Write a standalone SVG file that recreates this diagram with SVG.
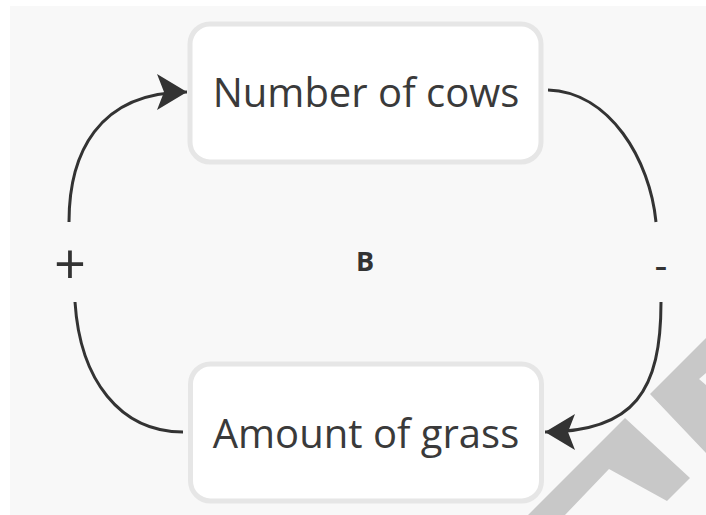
<svg xmlns="http://www.w3.org/2000/svg" width="706" height="515" viewBox="0 0 706 515">
  <defs>
    <style>
      .box { fill: #ffffff; stroke: #e6e6e6; stroke-width: 5; }
      .label { font-family: "Open Sans", "Liberation Sans", sans-serif; font-size: 40px; fill: #3a3a3a; text-anchor: middle; }
      .sign { font-family: "Open Sans", "Liberation Sans", sans-serif; fill: #333333; text-anchor: middle; }
      .conn { fill: none; stroke: #333333; stroke-width: 3; }
      .wm { fill: #c8c8c8; }
    </style>
    <marker id="arrow" markerWidth="34" markerHeight="38" refX="30" refY="19" orient="auto" markerUnits="userSpaceOnUse">
      <path d="M0,1 L30,19 L0,37 L7,19 Z" fill="#333333"/>
    </marker>
  </defs>
  <rect x="0" y="0" width="706" height="515" fill="#ffffff"/>
  <rect x="10" y="6" width="696" height="509" fill="#f8f8f8"/>

  <g id="watermark">
    <polygon class="wm" points="528,515 625,418 690,478 667,501 609,469 565,515"/>
    <polygon class="wm" points="650,394 706,338 706,373 699,379 706,385 706,453"/>
  </g>

  <g id="connectors">
    <path class="conn" d="M69,222 C69,155 97,92 187,92" marker-end="url(#arrow)"/>
    <path class="conn" d="M75,302 C80,380 120,432 183,432"/>
    <path class="conn" d="M548,90 C610,92 650,160 656,222"/>
    <path class="conn" d="M661,302 C661,390 635,432 545,432" marker-end="url(#arrow)"/>
  </g>

  <g id="node-cows">
    <rect class="box" x="190" y="24" width="351" height="138" rx="20"/>
    <text class="label" x="366" y="107">Number of cows</text>
  </g>

  <g id="node-grass">
    <rect class="box" x="190.5" y="364" width="351" height="137" rx="20"/>
    <text class="label" x="366" y="448">Amount of grass</text>
  </g>

  <g id="labels">
    <text class="sign" x="70" y="284" font-size="56">+</text>
    <text class="sign" x="661" y="279" font-size="40">-</text>
    <text class="sign" x="365" y="271" font-size="27" font-weight="bold">B</text>
  </g>
</svg>
